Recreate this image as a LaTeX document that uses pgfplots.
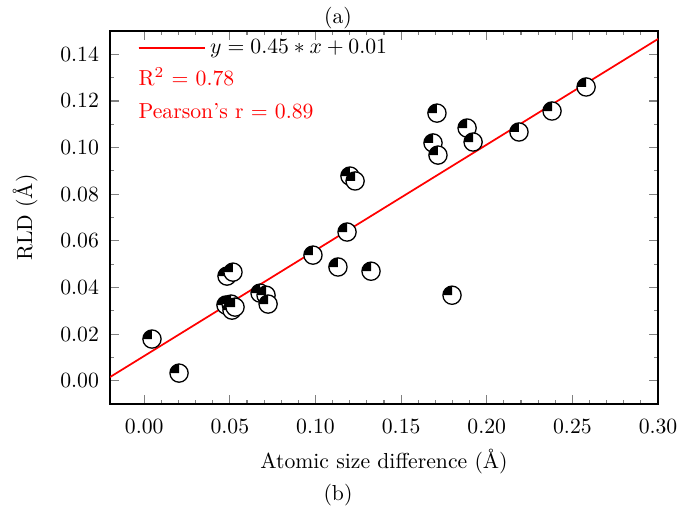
\documentclass[border=0pt]{standalone}
\usepackage{pgfplots}
\pgfplotsset{compat=1.18}
\pgfdeclareplotmark{qcirc}{%
  \pgfpathcircle{\pgfpointorigin}{\pgfplotmarksize}%
  \pgfsetfillcolor{white}\pgfusepathqfill
  \pgfpathmoveto{\pgfpointorigin}%
  \pgfpathlineto{\pgfpoint{0pt}{\pgfplotmarksize}}%
  \pgfpathcurveto{\pgfpoint{-0.5523\pgfplotmarksize}{\pgfplotmarksize}}{\pgfpoint{-\pgfplotmarksize}{0.5523\pgfplotmarksize}}{\pgfpoint{-\pgfplotmarksize}{0pt}}%
  \pgfpathclose
  \pgfsetfillcolor{black}\pgfusepathqfill
  \pgfpathcircle{\pgfpointorigin}{\pgfplotmarksize}%
  \pgfusepathqstroke
}
\begin{document}
\begin{tikzpicture}
\begin{axis}[
  scale only axis, width=252.5pt, height=171.9pt,
  xmin=-0.02, xmax=0.30, ymin=-0.01, ymax=0.15,
  xtick={0,0.05,0.10,0.15,0.20,0.25,0.30},
  ytick={0,0.02,0.04,0.06,0.08,0.10,0.12,0.14},
  minor x tick num=4, minor y tick num=1,
  major tick length=4pt, minor tick length=2pt,
  every axis/.append style={line width=0.6pt},
  every tick/.append style={line width=0.5pt},
  xticklabel style={yshift=-3.5pt, /pgf/number format/.cd, fixed, fixed zerofill, precision=2},
  yticklabel style={xshift=-1.5pt, /pgf/number format/.cd, fixed, fixed zerofill, precision=2},
  scaled ticks=false,
  xlabel={Atomic size difference (\AA)},
  ylabel={RLD (\AA)},
  ylabel shift=3.5pt,
  legend style={draw=none, fill=none, at={(axis description cs:0.0496,0.954)}, anchor=west, inner sep=0pt},
  legend cell align=left,
  legend image code/.code={\draw[#1] (0pt,0pt) -- (26.7pt,0pt); \path (0pt,0pt) -- (30.5pt,0pt);},
]
\addplot[only marks, mark=qcirc, mark size=4.2pt, mark options={draw=black, line width=0.6pt}, forget plot] coordinates {
(0.0045,0.0179) (0.0203,0.0033)
(0.0483,0.0449) (0.0518,0.0466)
(0.0477,0.0325) (0.0507,0.0329) (0.0512,0.0303) (0.0530,0.0316)
(0.0676,0.0376) (0.0711,0.0367) (0.0723,0.0329)
(0.0985,0.0539) (0.1131,0.0488) (0.1184,0.0638)
(0.1201,0.0878) (0.1231,0.0857) (0.1324,0.0470)
(0.1709,0.1148) (0.1686,0.1020) (0.1715,0.0968)
(0.1885,0.1084) (0.1920,0.1024) (0.1797,0.0367)
(0.2188,0.1067) (0.2381,0.1157) (0.2580,0.1260)
};
\addplot[red, line width=0.8pt] coordinates {(-0.02,0.0016) (0.30,0.1466)};
\addlegendentry{$y = 0.45 * x + 0.01$}
\node[red, anchor=west, inner sep=0pt] at (axis description cs:0.051,0.877) {R$^2$ = 0.78};
\node[red, anchor=west, inner sep=0pt] at (axis description cs:0.051,0.786) {Pearson's r = 0.89};
\coordinate (bl) at (rel axis cs:0,0);
\coordinate (tr) at (rel axis cs:1,1);
\coordinate (ta) at (rel axis cs:0.416,1);
\coordinate (tb) at (rel axis cs:0.416,0);
\end{axis}
\node at ([yshift=6.2pt]ta) {(a)};
\node at ([yshift=-41.9pt]tb) {(b)};
\pgfresetboundingbox
\path ([shift={(-50.7pt,-49.3pt)}]bl) rectangle ([shift={(9.2pt,14.3pt)}]tr);
\end{tikzpicture}
\end{document}
